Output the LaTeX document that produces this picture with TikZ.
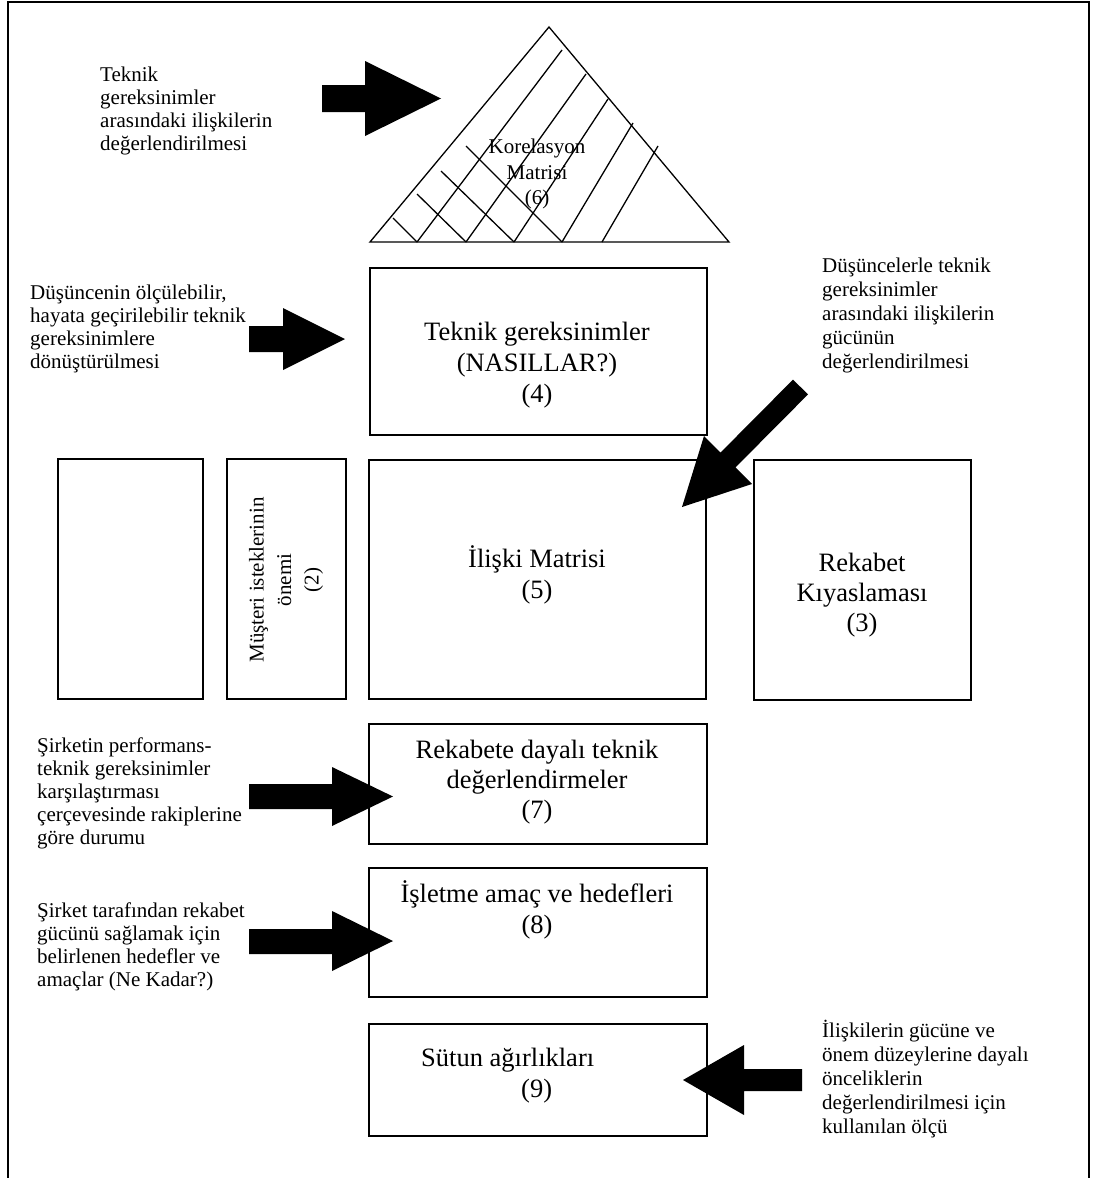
\documentclass[tikz,border=0pt]{standalone}
\usepackage{fontspec}
\setmainfont{Liberation Serif}
\begin{document}
\begin{tikzpicture}[x=1pt,y=-1pt,
  smalltxt/.style={font=\fontsize{21}{23}\selectfont, align=left, inner sep=0pt, anchor=north west},
  bigtxt/.style={font=\fontsize{26.5}{31}\selectfont, align=center, inner sep=0pt, anchor=north},
  boxx/.style={draw, line width=1.6pt, inner sep=0pt, anchor=north west},
  blk/.style={fill=black, draw=none},
  hatch/.style={line width=1.3pt}]
\useasboundingbox (0,0) rectangle (1093,1178);
% frame
\draw[line width=2.4pt] (8,1180) -- (8,2) -- (1089,2) -- (1089,1180);

% correlation triangle
\draw[hatch] (370,242) -- (549,27) -- (729,242) -- cycle;
\draw[hatch] (417,242) -- (562,50);
\draw[hatch] (466,242) -- (586,74);
\draw[hatch] (514,242) -- (608,99);
\draw[hatch] (562,242) -- (633,123);
\draw[hatch] (602,242) -- (658,146);
\draw[hatch] (393,218) -- (417,242);
\draw[hatch] (417,194) -- (466,242);
\draw[hatch] (441,171) -- (514,242);
\draw[hatch] (466,146) -- (562,242);
\node[font=\fontsize{21}{25.5}\selectfont, align=center, inner sep=0pt, anchor=north] (t6) at (537,139) {Korelasyon\\Matrisi\\(6)};

% boxes
\node[boxx, minimum width=337pt, minimum height=167pt] (b4) at (369,267) {};
\node[boxx, minimum width=145pt, minimum height=240pt] (b1) at (57,458) {};
\node[boxx, minimum width=119pt, minimum height=240pt] (b2) at (226,458) {};
\node[boxx, minimum width=337pt, minimum height=239pt] (b5) at (368,459) {};
\node[boxx, minimum width=217pt, minimum height=240pt] (b3) at (753,459) {};
\node[boxx, minimum width=338pt, minimum height=120pt] (b7) at (368,723) {};
\node[boxx, minimum width=338pt, minimum height=129pt] (b8) at (368,867) {};
\node[boxx, minimum width=338pt, minimum height=112pt] (b9) at (368,1023) {};

% box texts
\node[bigtxt] (t4) at (537,322) {Teknik gereksinimler\\(NASILLAR?)\\(4)};
\node[bigtxt] (t5) at (537,545) {İlişki Matrisi\\(5)};
\node[bigtxt, font=\fontsize{26.5}{30}\selectfont] (t3) at (862,553) {Rekabet\\Kıyaslaması\\(3)};
\node[bigtxt, font=\fontsize{26.5}{30}\selectfont] (t7) at (537,740) {Rekabete dayalı teknik\\değerlendirmeler\\(7)};
\node[bigtxt] (t8) at (537,880) {İşletme amaç ve hedefleri\\(8)};
\node[bigtxt, align=left, anchor=north west] (t9) at (421,1048) {Sütun ağırlıkları\\\hspace*{100pt}(9)};
\node[font=\fontsize{21}{27.5}\selectfont, align=center, inner sep=0pt, rotate=90] (t2) at (286,580) {Müşteri isteklerinin\\önemi\\(2)};

% side texts
\node[smalltxt] (s1) at (100,67) {Teknik\\gereksinimler\\arasındaki ilişkilerin\\değerlendirilmesi};
\node[smalltxt] (s2) at (30,285) {Düşüncenin ölçülebilir,\\hayata geçirilebilir teknik\\gereksinimlere\\dönüştürülmesi};
\node[smalltxt, font=\fontsize{21}{24}\selectfont] (s3) at (822,258) {Düşüncelerle teknik\\gereksinimler\\arasındaki ilişkilerin\\gücünün\\değerlendirilmesi};
\node[smalltxt] (s7) at (37,738) {Şirketin performans-\\teknik gereksinimler\\karşılaştırması\\çerçevesinde rakiplerine\\göre durumu};
\node[smalltxt] (s8) at (37,903) {Şirket tarafından rekabet\\gücünü sağlamak için\\belirlenen hedefler ve\\amaçlar (Ne Kadar?)};
\node[smalltxt, font=\fontsize{21}{24}\selectfont] (s9) at (822,1020) {İlişkilerin gücüne ve\\önem düzeylerine dayalı\\önceliklerin\\değerlendirilmesi için\\kullanılan ölçü};

% block arrows
\fill[blk] (322,85) -- (365,85) -- (365,61) -- (441,98.5) -- (365,136) -- (365,112) -- (322,112) -- cycle;
\fill[blk] (249,326) -- (283,326) -- (283,308) -- (345,339) -- (283,370) -- (283,352) -- (249,352) -- cycle;
\fill[blk] (249,784) -- (332,784) -- (332,767) -- (393,796.5) -- (332,826) -- (332,809) -- (249,809) -- cycle;
\fill[blk] (249,929) -- (332,929) -- (332,911) -- (393,941) -- (332,971) -- (332,954) -- (249,954) -- cycle;
\fill[blk] (802,1069) -- (744,1069) -- (744,1045) -- (683,1080) -- (744,1115) -- (744,1091) -- (802,1091) -- cycle;
\fill[blk] (808,394.4) -- (735.5,467.4) -- (752,484) -- (682,507) -- (704,436) -- (720.5,452.6) -- (793,379.6) -- cycle;
\end{tikzpicture}
\end{document}
